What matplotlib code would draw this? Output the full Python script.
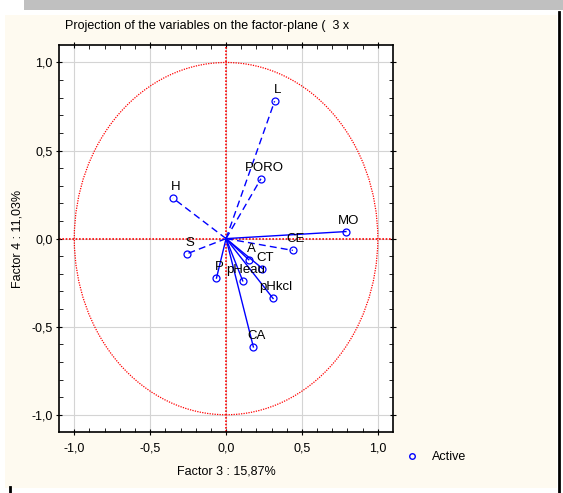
import numpy as np
import matplotlib.pyplot as plt
from matplotlib.patches import Rectangle, Circle

names = ["L", "PORO", "H", "MO", "CE", "S", "A", "CT", "P", "pHeau", "pHkcl", "CA"]
factor3 = [0.32, 0.23, -0.35, 0.79, 0.44, -0.26, 0.15, 0.24, -0.063, 0.11, 0.31, 0.18]
factor4 = [0.78, 0.34, 0.23, 0.04, -0.067, -0.087, -0.12, -0.17, -0.224, -0.24, -0.34, -0.615]
styles = ["--", "--", "--", "-", "--", "--", "-", "-", "-", "-", "-", "-"]
ticks = [-1.0, -0.5, 0.0, 0.5, 1.0]
tick_labels = ["-1,0", "-0,5", "0,0", "0,5", "1,0"]

plt.rcParams['font.family'] = ['Liberation Sans', 'DejaVu Sans']

fig = plt.figure(figsize=(5.63, 4.93), dpi=100)
fig.patch.set_facecolor('white')
# window chrome: cream panel, gray bar on top, dark edge on the right
fig.patches.append(Rectangle((5 / 563, 5 / 493), 552 / 563, 473 / 493, transform=fig.transFigure,
                             facecolor='#fefaf0', edgecolor='none', zorder=-2))
fig.patches.append(Rectangle((24 / 563, 483 / 493), 539 / 563, 10 / 493, transform=fig.transFigure,
                             facecolor='#c0c0c0', edgecolor='none', zorder=-1))
fig.lines.append(plt.Line2D([559 / 563, 559 / 563], [0, 481 / 493], transform=fig.transFigure,
                            color='black', lw=2))
fig.lines.append(plt.Line2D([10 / 563, 10 / 563], [0, 6 / 493], transform=fig.transFigure,
                            color='black', lw=2))

ax = fig.add_axes([0.105, 0.123, 0.593, 0.786])
ax.set_facecolor('white')
ax.set_xlim(-1.1, 1.1)
ax.set_ylim(-1.1, 1.1)

ax.add_patch(Circle((0, 0), 1.0, fill=False, edgecolor='red', linestyle=(0, (1, 1)), lw=0.9))
ax.axhline(0, color='red', linestyle=(0, (1, 1)), lw=1.2)
ax.axvline(0, color='red', linestyle=(0, (1, 1)), lw=1.2)

for name, x, y, ls in zip(names, factor3, factor4, styles):
    ax.plot([0, x], [0, y], color='blue', linestyle=ls, lw=1.0, dashes=(5, 3) if ls == '--' else ())
    ax.plot(x, y, marker='o', markersize=5, markerfacecolor='none', markeredgecolor='blue', mew=0.9)
    ax.annotate(name, (x, y), xytext=(3, 11), textcoords='offset pixels',
                ha='center', va='center', fontsize=9.5, color='black')

ax.set_xticks(ticks)
ax.set_xticklabels(tick_labels)
ax.set_yticks(ticks)
ax.set_yticklabels(tick_labels)
ax.set_xticks(np.arange(-1.0, 1.05, 0.1), minor=True)
ax.set_yticks(np.arange(-1.0, 1.05, 0.1), minor=True)
ax.tick_params(which='major', direction='inout', length=5, labelsize=9, pad=5)
ax.tick_params(axis='y', which='major', pad=2)
ax.tick_params(which='minor', direction='in', length=3)
ax.tick_params(top=True, right=True, which='both')
ax.grid(True, color='#d4d4d4', lw=0.8)
ax.set_axisbelow(True)
for s in ax.spines.values():
    s.set_linewidth(1.2)

ax.set_xlabel('Factor 3 : 15,87%', fontsize=9, labelpad=8)
ax.set_ylabel('Factor 4 : 11,03%', fontsize=9, labelpad=6)
fig.text(65 / 563, 1 - 26 / 493, 'Projection of the variables on the factor-plane (  3 x',
         fontsize=9, ha='left', va='center')

ax.plot([], [], marker='o', linestyle='none', markersize=4, markerfacecolor='none',
        markeredgecolor='blue', label='Active')
ax.legend(loc='center left', bbox_to_anchor=(388 / 563, 1 - 457 / 493), bbox_transform=fig.transFigure,
          frameon=False, fontsize=9, handletextpad=0.6)

fig.savefig('out.png', dpi=100, facecolor=fig.get_facecolor())
